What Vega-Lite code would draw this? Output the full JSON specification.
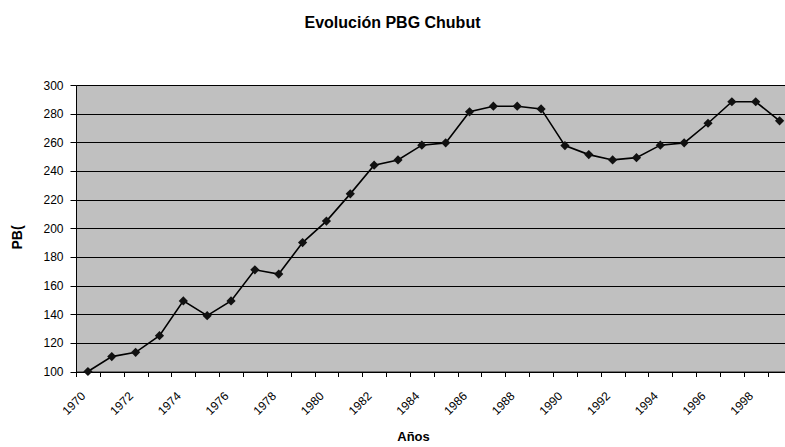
{
  "$schema": "https://vega.github.io/schema/vega-lite/v6.json",
  "autosize": "none",
  "width": 709,
  "height": 286.5,
  "padding": {"left": 76, "top": 85, "right": 0, "bottom": 75.5},
  "background": "white",
  "view": {"fill": "#c0c0c0", "stroke": null},
  "title": {
    "text": "Evolución PBG Chubut",
    "font": "Liberation Sans",
    "fontSize": 16,
    "fontWeight": "bold",
    "color": "black",
    "anchor": "middle",
    "baseline": "alphabetic",
    "offset": 35,
    "dx": -38
  },
  "data": {
    "values": [
      {"year": "1970", "pbg": 100},
      {"year": "1971", "pbg": 110.4},
      {"year": "1972", "pbg": 113.4},
      {"year": "1973", "pbg": 125},
      {"year": "1974", "pbg": 149.3},
      {"year": "1975", "pbg": 139},
      {"year": "1976", "pbg": 149.3},
      {"year": "1977", "pbg": 171},
      {"year": "1978", "pbg": 168},
      {"year": "1979", "pbg": 190},
      {"year": "1980", "pbg": 205},
      {"year": "1981", "pbg": 224},
      {"year": "1982", "pbg": 244},
      {"year": "1983", "pbg": 247.7},
      {"year": "1984", "pbg": 258},
      {"year": "1985", "pbg": 259.6},
      {"year": "1986", "pbg": 281.3},
      {"year": "1987", "pbg": 285.2},
      {"year": "1988", "pbg": 285.2},
      {"year": "1989", "pbg": 283.3},
      {"year": "1990", "pbg": 257.7},
      {"year": "1991", "pbg": 251.4},
      {"year": "1992", "pbg": 247.7},
      {"year": "1993", "pbg": 249.3},
      {"year": "1994", "pbg": 258},
      {"year": "1995", "pbg": 259.6},
      {"year": "1996", "pbg": 273.3},
      {"year": "1997", "pbg": 288.3},
      {"year": "1998", "pbg": 288.3},
      {"year": "1999", "pbg": 275}
    ]
  },
  "encoding": {
    "x": {
      "field": "year",
      "type": "ordinal",
      "scale": {"type": "band", "range": [0, 715.5], "paddingInner": 0, "paddingOuter": 0},
      "axis": {
        "title": "Años",
        "titleFont": "Liberation Sans",
        "titleFontSize": 13,
        "titleFontWeight": "bold",
        "titleColor": "black",
        "titleX": 337,
        "titleY": 59,
        "titleAnchor": null,
        "titleAlign": "center",
        "titleBaseline": "top",
        "labelAngle": -45,
        "labelAlign": "right",
        "labelBaseline": "middle",
        "labelFont": "Liberation Sans",
        "labelFontSize": 12,
        "labelColor": "black",
        "labelPadding": 17,
        "labelOffset": -5,
        "labelExpr": "toNumber(datum.value) % 2 == 0 ? datum.value : ''",
        "labelOverlap": false,
        "tickBand": "extent",
        "tickColor": "black",
        "tickSize": 5,
        "domainColor": "black",
        "domainWidth": 1,
        "grid": false
      }
    },
    "y": {
      "field": "pbg",
      "type": "quantitative",
      "scale": {"domain": [100, 300], "nice": false, "zero": false},
      "axis": {
        "title": "PB(",
        "titleFont": "Liberation Sans",
        "titleFontSize": 14,
        "titleFontWeight": "bold",
        "titleColor": "black",
        "titleAngle": 270,
        "titleX": -59,
        "titleY": 152,
        "titleAlign": "center",
        "titleBaseline": "middle",
        "values": [100, 120, 140, 160, 180, 200, 220, 240, 260, 280, 300],
        "labelFont": "Liberation Sans",
        "labelFontSize": 12,
        "labelColor": "black",
        "labelPadding": 7,
        "tickColor": "black",
        "tickSize": 6,
        "domainColor": "black",
        "grid": true,
        "gridColor": "black",
        "gridWidth": 1,
        "gridOpacity": 1
      }
    }
  },
  "layer": [
    {"mark": {"type": "line", "color": "black", "strokeWidth": 1.6}},
    {"mark": {"type": "point", "shape": "diamond", "filled": true, "color": "#111111", "size": 85, "opacity": 1}}
  ]
}
